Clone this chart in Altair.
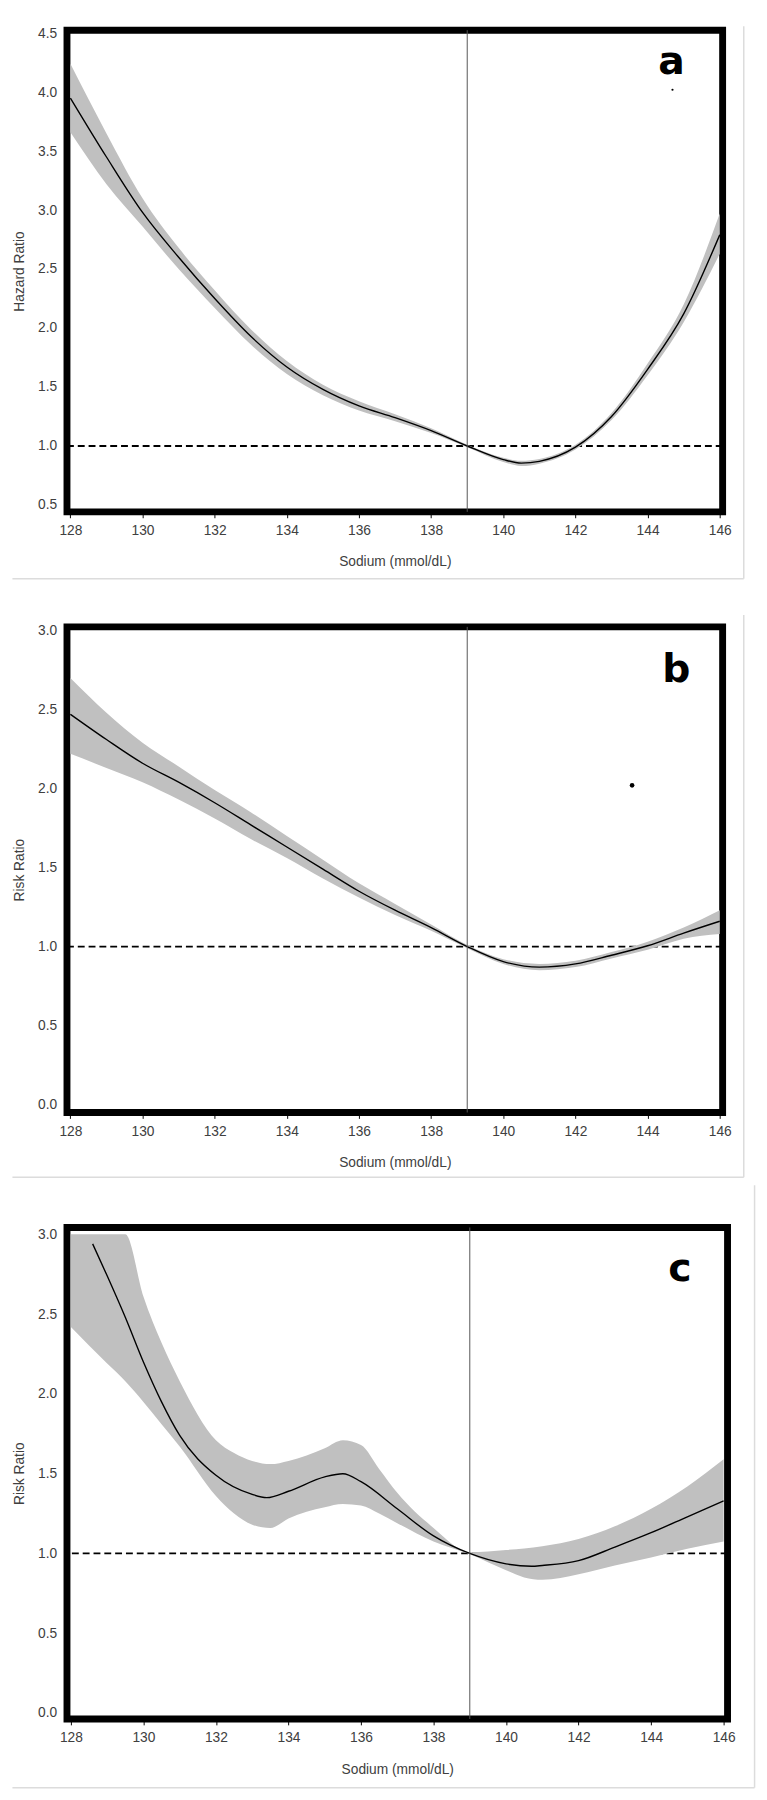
import altair as alt
import pandas as pd

# ---------------- Panel a : Hazard Ratio ----------------
a_x = [128, 129, 130, 131, 132, 133, 134, 135, 136, 137, 138, 139, 140, 140.5, 141, 142, 143, 144, 145, 146]
a_fit = [3.95, 3.45, 2.98, 2.60, 2.25, 1.93, 1.67, 1.48, 1.34, 1.24, 1.13, 1.00, 0.885, 0.855, 0.87, 0.99, 1.25, 1.65, 2.12, 2.79]
a_hi = [4.24, 3.65, 3.10, 2.68, 2.32, 1.99, 1.72, 1.52, 1.38, 1.27, 1.15, 1.01, 0.90, 0.875, 0.89, 1.01, 1.28, 1.70, 2.20, 2.97]
a_lo = [3.66, 3.22, 2.86, 2.50, 2.17, 1.86, 1.61, 1.43, 1.30, 1.21, 1.11, 0.99, 0.865, 0.83, 0.85, 0.97, 1.22, 1.60, 2.05, 2.63]
a_dot_x = [144.69]
a_dot_y = [4.02]

# ---------------- Panel b : Risk Ratio ----------------
b_x = [128, 129, 130, 131, 132, 133, 134, 135, 136, 137, 138, 139, 140, 141, 142, 143, 144, 145, 146]
b_fit = [2.47, 2.31, 2.16, 2.04, 1.91, 1.77, 1.63, 1.49, 1.35, 1.23, 1.12, 1.00, 0.905, 0.87, 0.89, 0.945, 1.005, 1.085, 1.16]
b_hi = [2.70, 2.48, 2.29, 2.14, 1.99, 1.85, 1.70, 1.55, 1.40, 1.27, 1.14, 1.01, 0.92, 0.89, 0.91, 0.965, 1.03, 1.12, 1.23]
b_lo = [2.22, 2.13, 2.04, 1.93, 1.81, 1.68, 1.56, 1.43, 1.31, 1.20, 1.10, 0.99, 0.89, 0.85, 0.87, 0.925, 0.98, 1.05, 1.08]
b_dot_x = [143.57]
b_dot_y = [2.02]

# ---------------- Panel c : Risk Ratio ----------------
c_band_x = [128, 129, 129.5, 130, 130.5, 131, 132, 132.5, 133, 133.5, 134, 135, 135.5, 136, 136.5, 137, 138, 139, 140, 140.5, 141, 142, 143, 144, 145, 146]
c_hi = [3.0, 3.0, 3.0, 2.61, 2.32, 2.08, 1.71, 1.63, 1.58, 1.56, 1.58, 1.66, 1.71, 1.68, 1.53, 1.38, 1.16, 1.008, 1.022, 1.032, 1.045, 1.09, 1.17, 1.28, 1.42, 1.59]
c_lo = [2.42, 2.19, 2.08, 1.95, 1.81, 1.67, 1.36, 1.25, 1.18, 1.16, 1.22, 1.29, 1.31, 1.30, 1.25, 1.19, 1.075, 0.995, 0.895, 0.85, 0.835, 0.87, 0.925, 0.975, 1.03, 1.075]
c_line_x = [128.6, 129, 129.5, 130, 130.5, 131, 132, 133, 133.4, 134, 135, 135.5, 136, 137, 138, 139, 140, 140.7, 141, 142, 143, 144, 145, 146]
c_fit = [2.94, 2.74, 2.48, 2.20, 1.95, 1.74, 1.49, 1.37, 1.35, 1.39, 1.48, 1.50, 1.45, 1.28, 1.11, 1.00, 0.935, 0.92, 0.925, 0.955, 1.04, 1.13, 1.23, 1.33]

x_ticks = [128, 130, 132, 134, 136, 138, 140, 142, 144, 146]
a_y_ticks = [0.5, 1.0, 1.5, 2.0, 2.5, 3.0, 3.5, 4.0, 4.5]
bc_y_ticks = [0.0, 0.5, 1.0, 1.5, 2.0, 2.5, 3.0]
ref_x = [139]
ref_y = [1.0]

FONT = "Liberation Sans"
TEXT = "#404040"
BOX = "#dcdcdc"


def panel(band_x, lo, hi, line_x, fit, xdom, ydom, yticks, ytitle, width, height,
          letter, lx, ly, box_right, box_top, box_bottom,
          dot_x=None, dot_y=None, dot_size=4):
    xs = alt.Scale(domain=xdom, nice=False, zero=False)
    ys = alt.Scale(domain=ydom, nice=False, zero=False)
    xaxis = alt.Axis(values=x_ticks, format="d", title="Sodium (mmol/dL)")
    yaxis = alt.Axis(values=yticks, format=".1f", title=ytitle)

    band_df = pd.DataFrame({"x": band_x, "lo": lo, "hi": hi})
    line_df = pd.DataFrame({"x": line_x, "y": fit})

    hline = alt.Chart(pd.DataFrame({"y": ref_y})).mark_rule(
        color="black", strokeDash=[7, 4], strokeWidth=1.8
    ).encode(y=alt.Y("y:Q", scale=ys, axis=yaxis))

    band = alt.Chart(band_df).mark_area(
        color="#c0c0c0", opacity=1, interpolate="monotone", clip=True
    ).encode(
        x=alt.X("x:Q", scale=xs, axis=xaxis),
        y=alt.Y("lo:Q", scale=ys, axis=yaxis),
        y2="hi:Q",
    )

    line = alt.Chart(line_df).mark_line(
        color="black", strokeWidth=1.4, interpolate="monotone", clip=True
    ).encode(
        x=alt.X("x:Q", scale=xs, axis=xaxis),
        y=alt.Y("y:Q", scale=ys, axis=yaxis),
    )

    vline = alt.Chart(pd.DataFrame({"x": ref_x})).mark_rule(
        color="#555555", strokeWidth=1
    ).encode(x=alt.X("x:Q", scale=xs, axis=xaxis))

    lab = alt.Chart(pd.DataFrame({"t": [letter]})).mark_text(
        font="DejaVu Sans", fontSize=40, fontWeight="bold", color="black",
        align="center", baseline="alphabetic"
    ).encode(x=alt.value(lx), y=alt.value(ly), text="t:N")

    # light grey frame of the original figure box (bottom and right edges)
    box_b = alt.Chart(pd.DataFrame({"t": [0]})).mark_rule(
        color=BOX, strokeWidth=1.5
    ).encode(x=alt.value(-55.5), x2=alt.value(box_right), y=alt.value(box_bottom))
    box_r = alt.Chart(pd.DataFrame({"t": [0]})).mark_rule(
        color=BOX, strokeWidth=1.5
    ).encode(x=alt.value(box_right), y=alt.value(box_top), y2=alt.value(box_bottom))

    layers = [box_b, box_r, hline, band, line, vline, lab]
    if dot_x is not None:
        dot = alt.Chart(pd.DataFrame({"x": dot_x, "y": dot_y})).mark_point(
            filled=True, color="black", opacity=1, size=dot_size
        ).encode(
            x=alt.X("x:Q", scale=xs, axis=xaxis),
            y=alt.Y("y:Q", scale=ys, axis=yaxis),
        )
        layers.append(dot)

    return alt.layer(*layers).properties(width=width, height=height)


pa = panel(a_x, a_lo, a_hi, a_x, a_fit, [127.905, 146.08], [0.4417, 4.525], a_y_ticks,
           "Hazard Ratio", 667, 490, "a", 615, 45, 688.5, -4, 558,
           a_dot_x, a_dot_y, 5)
pb = panel(b_x, b_lo, b_hi, b_x, b_fit, [127.905, 146.08], [-0.0498, 3.023], bc_y_ticks,
           "Risk Ratio", 667, 494, "b", 620, 56, 688.5, -12, 560,
           b_dot_x, b_dot_y, 22)
pc = panel(c_band_x, c_lo, c_hi, c_line_x, c_fit, [127.892, 146.108], [-0.037, 3.043], bc_y_ticks,
           "Risk Ratio", 672, 500, "c", 623.5, 54, 699.5, -43, 570)

chart = alt.vconcat(pa, pb, pc, spacing=117, bounds="flush").properties(
    padding={"left": 0, "top": -2, "right": 0, "bottom": 0}
).configure_view(
    stroke="black", strokeWidth=7
).configure_axis(
    labelFont=FONT, titleFont=FONT, labelFontSize=14, titleFontSize=14,
    labelColor=TEXT, titleColor=TEXT, titleFontWeight="normal",
    grid=False, domain=False
).configure_axisX(
    tickSize=6, tickColor="black", tickWidth=1, labelPadding=6, titlePadding=18
).configure_axisY(
    ticks=False, tickSize=0, labelPadding=10.5, titlePadding=11.5
)

chart.save("out.html", embed_options={"renderer": "svg", "actions": False})
